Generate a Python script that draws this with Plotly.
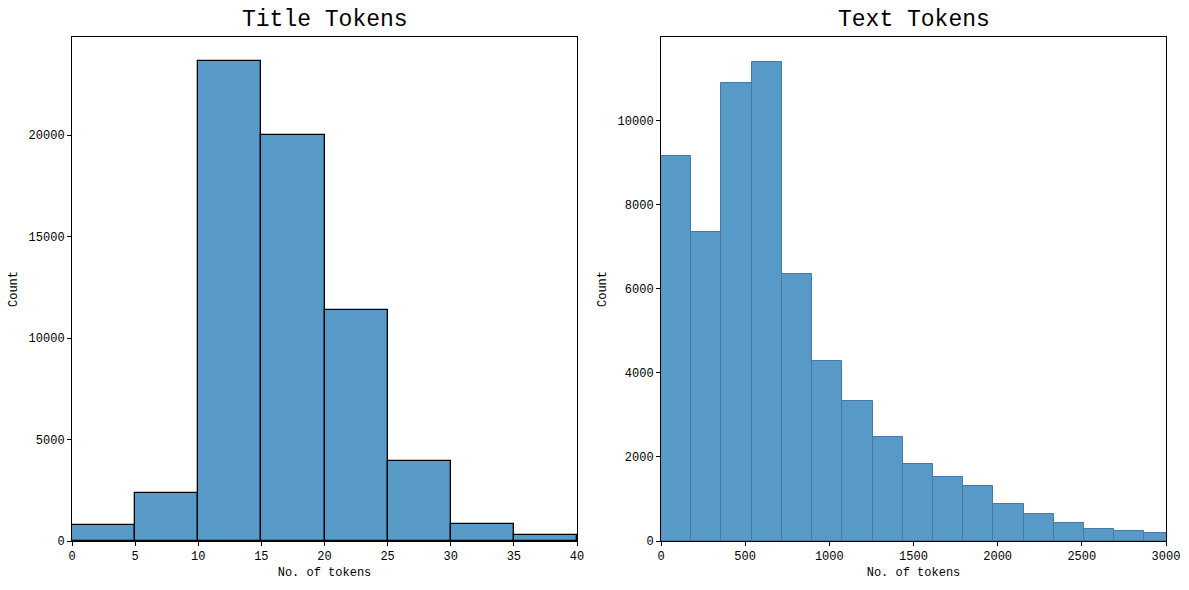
import plotly.graph_objects as go

# Title tokens histogram (bin width 5)
title_bin_start = 0
title_bin_width = 5
title_counts = [800, 2360, 23650, 20000, 11380, 3950, 860, 315]

# Text tokens histogram (bin width ~179.5)
text_bin_start = 0
text_bin_width = 179.5
text_counts = [9170, 7345, 10900, 11400, 6345, 4280, 3325, 2470, 1830,
               1522, 1308, 883, 647, 435, 292, 245, 197]

left_title = "Title Tokens"
right_title = "Text Tokens"
x_label = "No. of tokens"
y_label = "Count"

FONT = "Liberation Mono"
FILL = "rgb(87,153,199)"

def centers(start, width, n):
    return [start + width * (i + 0.5) for i in range(n)]

fig = go.Figure()
fig.add_trace(go.Bar(
    x=centers(title_bin_start, title_bin_width, len(title_counts)),
    y=title_counts, width=[title_bin_width] * len(title_counts),
    marker=dict(color=FILL, line=dict(color="black", width=1.3)),
    xaxis="x", yaxis="y", showlegend=False))
fig.add_trace(go.Bar(
    x=centers(text_bin_start, text_bin_width, len(text_counts)),
    y=text_counts, width=[text_bin_width] * len(text_counts),
    marker=dict(color=FILL, line=dict(color="rgb(70,122,160)", width=1)),
    xaxis="x2", yaxis="y2", showlegend=False))

W, H = 1189, 590
ydom = [1 - 541 / H, 1 - 37 / H]
axis_common = dict(showline=True, linecolor="black", linewidth=1, mirror=True,
                   ticks="outside", ticklen=4, tickcolor="black", showgrid=False,
                   zeroline=False, tickformat="d", automargin=False,
                   tickfont=dict(family=FONT, size=12, color="black"))

fig.update_layout(
    width=W, height=H, margin=dict(l=0, r=0, t=0, b=0, autoexpand=False),
    plot_bgcolor="white", paper_bgcolor="white", bargap=0,
    font=dict(family=FONT, color="black"),
    xaxis=dict(domain=[72 / W, 577 / W], range=[0, 40], dtick=5, anchor="y",
               title=dict(text=x_label, font=dict(family=FONT, size=12), standoff=4),
               **axis_common),
    yaxis=dict(domain=ydom, range=[0, 24830], dtick=5000, anchor="x",
               title=dict(text=y_label, font=dict(family=FONT, size=12), standoff=8),
               **axis_common),
    xaxis2=dict(domain=[661 / W, 1166 / W], range=[0, 3000], dtick=500, anchor="y2",
                title=dict(text=x_label, font=dict(family=FONT, size=12), standoff=4),
                **axis_common),
    yaxis2=dict(domain=ydom, range=[0, 11990], dtick=2000, anchor="x2",
                title=dict(text=y_label, font=dict(family=FONT, size=12), standoff=8),
                **axis_common),
    annotations=[
        dict(text=left_title, x=(72 + 577) / 2 / W, y=1 - 20 / H, xref="paper", yref="paper",
             showarrow=False, xanchor="center", yanchor="middle",
             font=dict(family=FONT, size=23, color="black")),
        dict(text=right_title, x=(661 + 1166) / 2 / W, y=1 - 20 / H, xref="paper", yref="paper",
             showarrow=False, xanchor="center", yanchor="middle",
             font=dict(family=FONT, size=23, color="black")),
    ],
)

fig.write_html("out.html", config={"displayModeBar": False},
               post_script="document.body.style.margin='0';document.body.style.overflow='hidden';")
